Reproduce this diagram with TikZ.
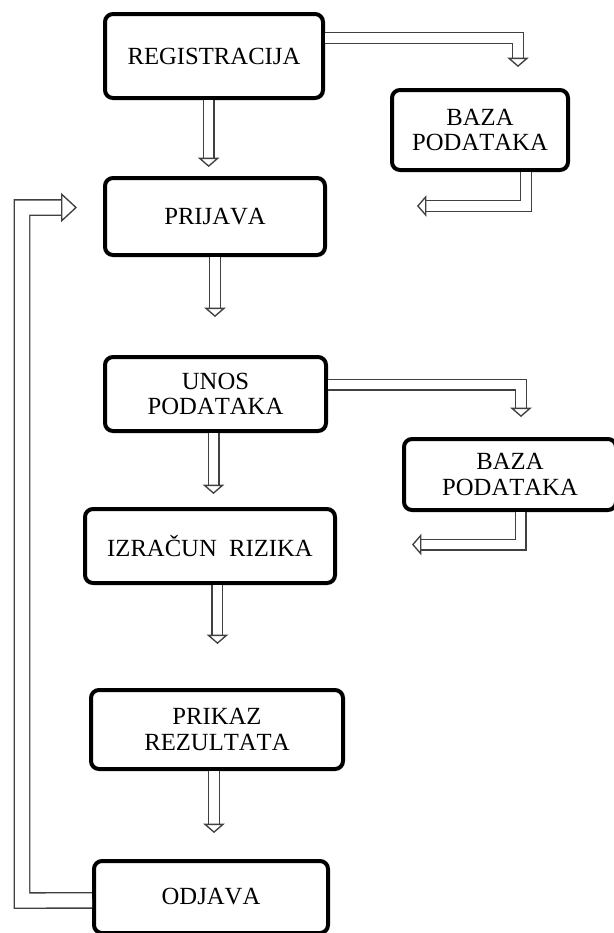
\documentclass[tikz,border=0pt]{standalone}
\usepackage{fontspec}
\setmainfont[Kerning=Off]{Liberation Serif}
\usetikzlibrary{arrows.meta}

\begin{document}
\begin{tikzpicture}[x=0.75pt, y=-0.75pt,
  box/.style = {draw, line width=3pt, rounded corners=6pt, align=center, inner sep=0pt,
                font=\fontsize{18.5}{19}\selectfont},
  flow/.style = {draw=black!75, line width=1pt, double=white, double distance=7pt,
                 -{Triangle[fill=white, line width=1pt, length=7pt, width=16pt]}},
  loopback/.style = {flow, double distance=10.5pt,
                 -{Triangle[fill=white, line width=1pt, length=12pt, width=22pt]}}]
\useasboundingbox (0,0) rectangle (614,933);

\node[box, minimum width=163.5pt, minimum height=63pt] (reg) at (214,56) {REGISTRACIJA};
\node[box, minimum width=132pt, minimum height=60pt] (db1) at (480,130) {BAZA\\PODATAKA};
\node[box, minimum width=165pt, minimum height=57.75pt] (login) at (215,216.5) {PRIJAVA};
\node[box, minimum width=165.75pt, minimum height=55.5pt] (entry) at (215.5,394) {UNOS\\PODATAKA};
\node[box, minimum width=159pt, minimum height=53.25pt] (db2) at (510,474.5) {BAZA\\PODATAKA};
\node[box, minimum width=187.5pt, minimum height=55.5pt] (risk) at (210,546) {IZRAČUN~~RIZIKA};
\node[box, minimum width=189pt, minimum height=59.25pt] (result) at (217,729.5) {PRIKAZ\\REZULTATA};
\node[box, minimum width=175.5pt, minimum height=54pt] (logout) at (211,897) {ODJAVA};
\coordinate (turn) at (22,900.5);

% main column
\draw[flow, shorten >=6.75pt] ([xshift=-4pt]reg.south) -- ([xshift=-4pt]reg.south |- login.north);
\draw[flow, shorten >=28.5pt] (login.south) -- (login.south |- entry.north);
\draw[flow, shorten >=9.75pt] ([xshift=-1.5pt]entry.south) -- ([xshift=-1.5pt]entry.south |- risk.north);
\draw[flow, shorten >=33pt] ([xshift=5.6pt]risk.south) -- ([xshift=5.6pt]risk.south |- result.north);
\draw[flow, shorten >=19.5pt] ([xshift=-2.25pt]result.south) -- ([xshift=-2.25pt]result.south |- logout.north);

% database links
\draw[flow, shorten >=15.75pt] ([yshift=13.5pt]reg.east) -| ([xshift=28.5pt]db1.north);
\draw[flow, shorten >=67.5pt] ([xshift=34.5pt]db1.south) |- ([yshift=7.9pt]login.east);
\draw[flow, shorten >=15pt] ([yshift=7.1pt]entry.east) -| ([xshift=8.25pt]db2.north);
\draw[flow, shorten >=56.25pt] ([xshift=7.9pt]db2.south) |- ([yshift=1.1pt]risk.east);

% back to login
\draw[loopback, shorten >=19.5pt] ([yshift=-2.6pt]logout.west) -- (turn) |- ([yshift=6.75pt]login.west);
\end{tikzpicture}
\end{document}
